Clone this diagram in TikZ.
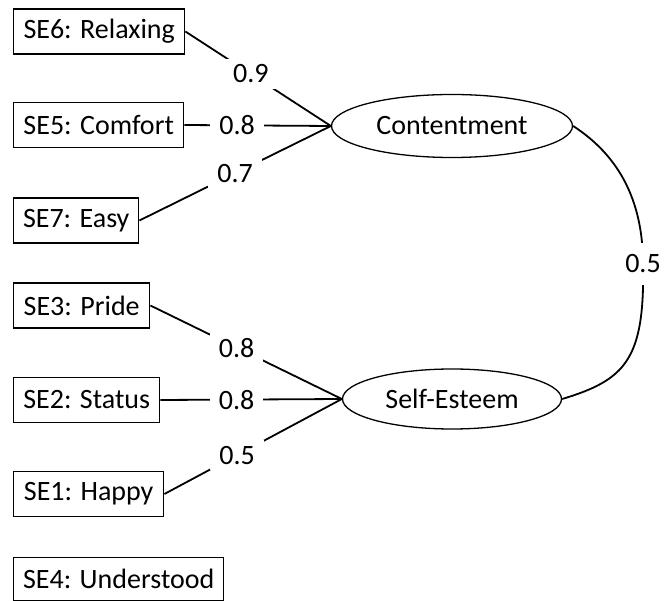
\documentclass[tikz,border=0pt]{standalone}
\usepackage{fontspec}
\setmainfont{Carlito}
\usetikzlibrary{shapes.geometric}
\begin{document}
\begin{tikzpicture}[x=1pt,y=-1pt,
  every node/.style={font=\fontsize{28}{32}\selectfont},
  itembox/.style={draw,line width=1.4pt,rectangle,anchor=west,minimum height=45pt,inner sep=0pt},
  latent/.style={draw,line width=1.3pt,ellipse,inner sep=0pt},
  conn/.style={line width=1.8pt},
  lbl/.style={fill=white,inner xsep=9pt,inner ysep=6pt}]
\useasboundingbox (0,0) rectangle (664,601);
\node[itembox,minimum width=171pt] (se6) at (13,31.5) {SE6: Relaxing};
\node[itembox,minimum width=170pt] (se5) at (13,125) {SE5: Comfort};
\node[itembox,minimum width=125pt] (se7) at (13,220.5) {SE7: Easy};
\node[itembox,minimum width=136pt] (se3) at (13,305.5) {SE3: Pride};
\node[itembox,minimum width=146pt] (se2) at (13,400) {SE2: Status};
\node[itembox,minimum width=150pt] (se1) at (13,494) {SE1: Happy};
\node[itembox,minimum width=210pt,minimum height=43pt] (se4) at (13,579) {SE4: Understood};
\node[latent,minimum width=241pt,minimum height=63pt] (cont) at (452,126) {Contentment};
\node[latent,minimum width=219pt,minimum height=60pt] (este) at (452,399) {Self-Esteem};
\draw[conn] (se6.east) -- node[lbl,pos=0.45] {0.9} (cont.west);
\draw[conn] (se5.east) -- node[lbl,pos=0.36] {0.8} (cont.west);
\draw[conn] (se7.east) -- node[lbl,pos=0.5] {0.7} (cont.west);
\draw[conn] (se3.east) -- node[lbl,pos=0.45] {0.8} (este.west);
\draw[conn] (se2.east) -- node[lbl,pos=0.42] {0.8} (este.west);
\draw[conn] (se1.east) -- node[lbl,pos=0.41] {0.5} (este.west);
\coordinate (mid) at (643,264);
\draw[conn] (cont.east) .. controls (610,150) and (643,190) .. (mid)
  .. controls (645,360) and (625,380) .. (este.east);
\node[lbl,inner xsep=2pt,inner ysep=12pt] (r) at (mid) {0.5};
\end{tikzpicture}
\end{document}
